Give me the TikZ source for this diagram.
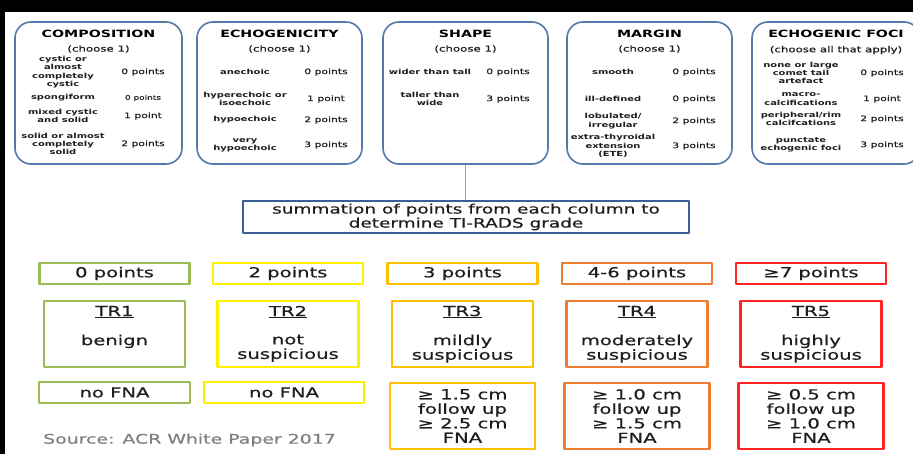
\documentclass[tikz,border=0pt]{standalone}
\usepackage{fontspec}
\setmainfont{DejaVu Sans}[FakeStretch=1.42,UprightFeatures={FakeBold=0.5}]

\definecolor{catblue}{RGB}{84,120,170}
\definecolor{sumblue}{RGB}{58,96,150}
\definecolor{linkblue}{RGB}{120,160,210}
\definecolor{trgreen}{RGB}{155,187,89}
\definecolor{tryellow}{RGB}{255,240,0}
\definecolor{trgold}{RGB}{255,192,0}
\definecolor{trorange}{RGB}{237,125,49}
\definecolor{trred}{RGB}{255,35,35}
\definecolor{inkgrey}{RGB}{30,30,30}
\definecolor{srcgrey}{RGB}{128,128,128}

\newcommand\catheadfont{\fontsize{10}{12}\selectfont\bfseries}
\newcommand\catsubfont{\fontsize{8.3}{10}\selectfont}
\newcommand\catitemfont{\fontsize{7}{8.3}\selectfont\bfseries}
\newcommand\catptsfont{\fontsize{7.6}{9}\selectfont}
\newcommand\sumtextfont{\fontsize{13}{14}\selectfont}
\newcommand\tirtextfont{\fontsize{13.8}{14.5}\selectfont}

\begin{document}
\begin{tikzpicture}[x=1pt,y=-1pt,line join=round,
  catbox/.style={draw=catblue,line width=1.6pt,rounded corners=16pt,minimum width=#1,minimum height=142pt,inner sep=0pt},
  cathead/.style={inner sep=0pt,text=black,font=\catheadfont},
  catsub/.style={inner sep=0pt,text=inkgrey,font=\catsubfont},
  catitem/.style={inner sep=0pt,text=inkgrey,align=center,font=\catitemfont},
  catpts/.style={inner sep=0pt,text=inkgrey,font=\catptsfont},
  sumbox/.style={draw=sumblue,line width=1.8pt,inner sep=0pt,align=center,text=inkgrey,font=\sumtextfont},
  tirbox/.style={draw=#1,line width=2.2pt,inner sep=0pt,align=center,text=inkgrey,font=\tirtextfont},
  tirtext/.style={inner sep=0pt,align=center,text=inkgrey,font=\tirtextfont}]
  \useasboundingbox (0,0) rectangle (913,454);
  \fill[black] (0,0) rectangle (913,454);
  \fill[white] (5,12) rectangle (913,454);
  \clip (0,0) rectangle (913,454);

  % the five feature columns
  \node[catbox=167pt] (comp) at (98.5,93) {};
  \node[catbox=165pt] (echo) at (279.5,93) {};
  \node[catbox=165pt] (shape) at (465.5,93) {};
  \node[catbox=165pt] (margin) at (649.5,93) {};
  \node[catbox=168pt] (foci) at (836,93) {};

  \node[cathead] (compT) at (98.5,34) {COMPOSITION};
  \node[cathead] (echoT) at (279.5,34) {ECHOGENICITY};
  \node[cathead] (shapeT) at (465.5,34) {SHAPE};
  \node[cathead] (marginT) at (649.5,34) {MARGIN};
  \node[cathead] (fociT) at (836,34) {ECHOGENIC FOCI};

  \node[catsub] (compS) at (98.5,49) {(choose 1)};
  \node[catsub] (echoS) at (279.5,49) {(choose 1)};
  \node[catsub] (shapeS) at (465.5,49) {(choose 1)};
  \node[catsub] (marginS) at (649.5,49) {(choose 1)};
  \node[catsub] (fociS) at (836,50) {(choose all that apply)};

  \foreach \y/\lab/\pts [count=\i] in {72/{cystic or\\almost\\completely\\cystic}/0 points,
      98/spongiform/{\fontsize{6.3}{7}\selectfont 0 points},
      116/{mixed cystic\\and solid}/1 point,
      144/{solid or almost\\completely\\solid}/2 points}{
    \node[catitem] (compL\i) at (63,\y) {\lab};
    \node[catpts] (compP\i) at (143,\y) {\pts};
  }
  \foreach \y/\lab/\pts [count=\i] in {72/anechoic/0 points,
      99/{hyperechoic or\\isoechoic}/1 point,
      120/hypoechoic/2 points,
      145/{very\\hypoechoic}/3 points}{
    \node[catitem] (echoL\i) at (245,\y) {\lab};
    \node[catpts] (echoP\i) at (326,\y) {\pts};
  }
  \foreach \y/\lab/\pts [count=\i] in {72/wider than tall/0 points,
      99/{taller than\\wide}/3 points}{
    \node[catitem] (shapeL\i) at (430,\y) {\lab};
    \node[catpts] (shapeP\i) at (508,\y) {\pts};
  }
  \foreach \y/\lab/\pts [count=\i] in {72/smooth/0 points,
      99/ill-defined/0 points,
      121/{lobulated/\\irregular}/2 points,
      146/{extra-thyroidal\\extension\\(ETE)}/3 points}{
    \node[catitem] (marginL\i) at (613,\y) {\lab};
    \node[catpts] (marginP\i) at (694,\y) {\pts};
  }
  \foreach \y/\lab/\pts [count=\i] in {73/{none or large\\comet tail\\artefact}/0 points,
      99/{macro-\\calcifications}/1 point,
      119/{peripheral/rim\\calcifcations}/2 points,
      145/{punctate\\echogenic foci}/3 points}{
    \node[catitem] (fociL\i) at (801,\y) {\lab};
    \node[catpts] (fociP\i) at (882,\y) {\pts};
  }

  % summation
  \node[sumbox,minimum width=446pt,minimum height=32pt] (sum) at (466,217)
    {summation of points from each column to\\determine TI-RADS grade};
  \draw[linkblue,line width=1.2pt] (shape.south) -- (shape.south |- sum.north);

  % TI-RADS grades
  \foreach \x/\col/\pts/\tr/\desc [count=\i] in {114.5/trgreen/0 points/TR1/benign,
      288/tryellow/2 points/TR2/{not\\suspicious},
      462.5/trgold/3 points/TR3/{mildly\\suspicious},
      637/trorange/4-6 points/TR4/{moderately\\suspicious},
      811/trred/{≥7 points}/TR5/{highly\\suspicious}}{
    \node[tirbox=\col,minimum width=150pt,minimum height=21pt] (pts\i) at (\x,273.5) {\pts};
    \node[tirbox=\col,minimum width=141pt,minimum height=66pt] (tr\i) at (\x,334) {};
    \node[tirtext] (trlab\i) at (\x,312) {\underline{\tr}};
    \node[tirtext,anchor=north] (trdesc\i) at (\x,334.5) {\desc};
  }

  \node[tirbox=trgreen,minimum width=151pt,minimum height=21pt] (fna1) at (114.5,392.5) {no FNA};
  \node[tirbox=tryellow,minimum width=160pt,minimum height=21pt] (fna2) at (284,392.5) {no FNA};
  \foreach \x/\col/\a/\b [count=\i from 3] in {462.5/trgold/1.5/2.5,637/trorange/1.0/1.5,811/trred/0.5/1.0}
    \node[tirbox=\col,minimum width=145pt,minimum height=66pt] (fna\i) at (\x,416)
      {≥ \a{} cm\\follow up\\≥ \b{} cm\\FNA};

  \node[tirtext,text=srcgrey,anchor=west,font=\fontsize{13.3}{15}\selectfont] (src) at (43,440)
    {Source: ACR White Paper 2017};
\end{tikzpicture}
\end{document}
